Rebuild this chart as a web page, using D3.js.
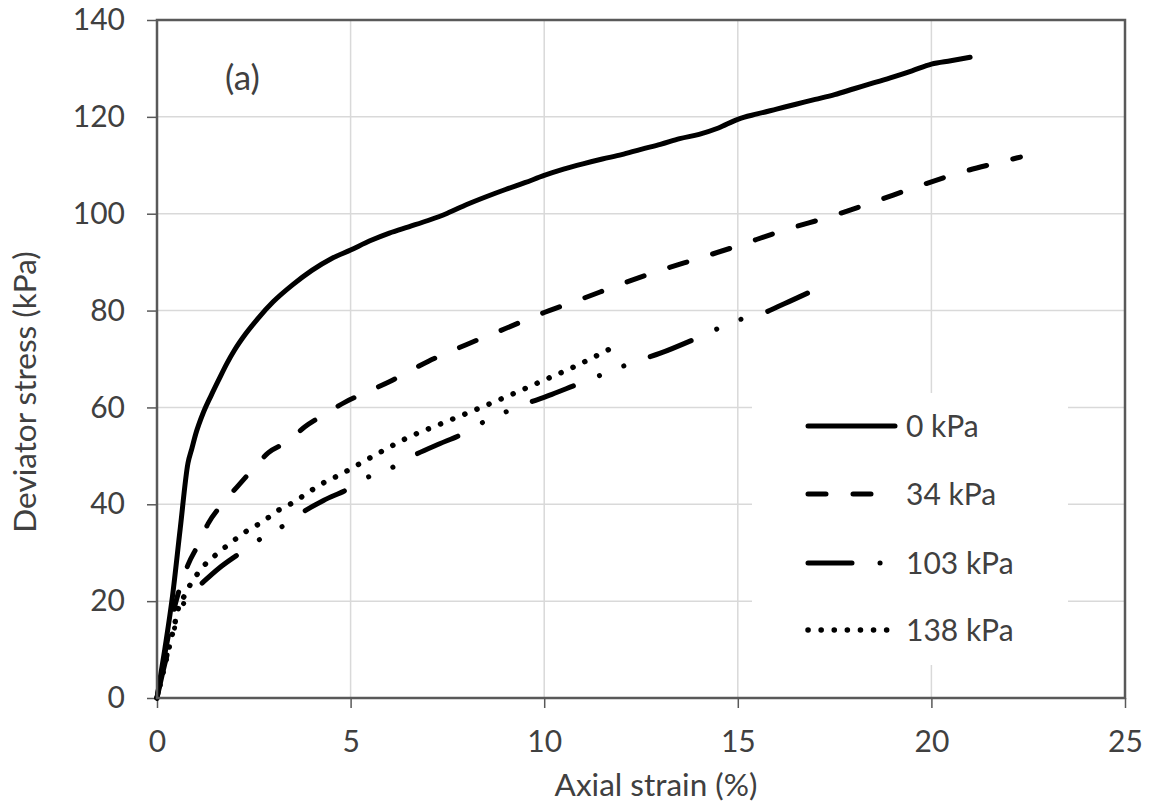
<!DOCTYPE html>
<html>
<head>
<meta charset="utf-8">
<script src="https://cdn.jsdelivr.net/npm/d3@7"></script>
<style>
  html, body { margin: 0; padding: 0; background: #fff; }
  svg { display: block; }
  text { font-family: Lato, "Open Sans", sans-serif; fill: #404040; }
</style>
</head>
<body>
<svg id="chart" width="1152" height="808"></svg>
<script>
// ---- data ----
const xTicks = [0, 5, 10, 15, 20, 25];
const yTicks = [0, 20, 40, 60, 80, 100, 120, 140];
const seriesNames = ["0 kPa", "34 kPa", "103 kPa", "138 kPa"];

const strain0 = [0,0.2,0.4,0.6,0.8,0.9,1.0,1.2,1.4,1.6,1.8,2.0,2.3,2.6,3.0,3.5,4.0,4.5,5.0,5.5,6.0,6.5,7.0,7.5,8.0,8.5,9.0,9.5,10,10.5,11,11.5,12,12.5,13,13.5,14,14.5,15,15.5,16,16.5,17,17.5,18,18.5,19,19.5,20,20.5,21];
const stress0 = [0,10,21,35,48.5,51.5,54.5,59,62.5,65.8,69,71.8,75.3,78.3,81.8,85.3,88.3,90.7,92.5,94.4,96,97.3,98.6,100.1,101.9,103.5,105,106.4,107.9,109.2,110.3,111.3,112.2,113.3,114.3,115.5,116.4,117.7,119.5,120.6,121.6,122.6,123.6,124.6,125.8,127,128.2,129.5,130.9,131.6,132.3];

const strain34 = [0,0.2,0.4,0.6,0.8,1.06,1.32,1.68,2.07,2.45,2.87,3.36,3.82,4.29,4.86,5.37,6,7,8,9,10,11,12,13,14,14.9,16.2,17.5,18.5,19.6,20.7,21.7,22.3];
const stress34 = [0,9,17,23,27.5,31.6,36,40,43.6,47,50.6,52.9,56,58.4,61.1,63,65.3,69.5,73,76.3,79.6,82.5,85.5,88.3,90.8,93.1,96.6,99.7,102.4,105.5,108.4,110.5,111.7];

const strain103 = [0,0.2,0.4,0.6,0.8,1.16,1.6,2.14,2.66,3.25,3.77,4.3,4.9,5.45,6.1,6.66,7.3,7.83,8.39,8.99,9.58,10.2,10.74,11.5,12.3,13,14,15,15.6,16.2,16.8];
const stress103 = [0,7,13,18,21,23.7,26.8,29.9,32.8,35.5,38.4,40.8,43,45.6,47.7,50.2,52.5,54.3,56.8,59,60.9,62.7,64.4,66.8,69.3,71.2,74.5,78,79.3,81.4,83.6];

const strain138 = [0,0.15,0.3,0.45,0.55,0.7,0.85,1.06,1.28,1.54,1.8,2.06,2.32,2.62,2.9,3.18,3.48,3.77,4.03,4.34,4.65,5.55,6.46,7.39,8.34,9.25,9.9,10.8,11.75];
const stress138 = [0,5,10,15,18.5,21,23.3,25.8,27.9,29.7,31.4,33,34.5,35.9,37.4,39,40.2,41.7,43.1,44.6,45.8,49.8,53.7,56.8,59.9,63,65.3,68.5,72.3];

// ---- layout ----
const svg = d3.select("#chart");
const L = 157, T = 20, R = 1125, B = 698;
const x = d3.scaleLinear().domain([0, 25]).range([L, R]);
const y = d3.scaleLinear().domain([0, 140]).range([B, T]);

const gridColor = "#d9d9d9";
const axisColor = "#595959";

// gridlines
svg.append("g").selectAll("line.h").data(yTicks.slice(1)).join("line")
  .attr("x1", L).attr("x2", R).attr("y1", d => y(d)).attr("y2", d => y(d))
  .attr("stroke", gridColor).attr("stroke-width", 1.5);
svg.append("g").selectAll("line.v").data(xTicks.slice(1)).join("line")
  .attr("y1", T).attr("y2", B).attr("x1", d => x(d)).attr("x2", d => x(d))
  .attr("stroke", gridColor).attr("stroke-width", 1.5);

// axes
const gx = svg.append("g").attr("transform", `translate(0,${B})`)
  .call(d3.axisBottom(x).tickValues(xTicks).tickSize(10).tickPadding(23).tickFormat(d3.format("d")));
const gy = svg.append("g").attr("transform", `translate(${L},0)`)
  .call(d3.axisLeft(y).tickValues(yTicks).tickSize(10).tickPadding(22).tickFormat(d3.format("d")));
[gx, gy].forEach(g => {
  g.select(".domain").remove();
  g.selectAll(".tick line").attr("stroke", axisColor).attr("stroke-width", 1.5);
  g.selectAll(".tick text").style("font-family", "Lato, 'Open Sans', sans-serif")
    .style("font-size", "30px").attr("fill", "#404040");
});

// series
const styles = [
  { dash: null, cap: "round" },
  { dash: "18,27", cap: "round" },
  { dash: "44,28,0.1,26,0.1,28", cap: "round" },
  { dash: "0.1,13", cap: "round" }
];
const series = [
  { xs: strain0, ys: stress0 },
  { xs: strain34, ys: stress34 },
  { xs: strain103, ys: stress103 },
  { xs: strain138, ys: stress138 }
];
const line = d3.line().x(d => x(d[0])).y(d => y(d[1])).curve(d3.curveMonotoneX);
series.forEach((s, i) => {
  const pts = s.xs.map((v, k) => [v, s.ys[k]]);
  svg.append("path").datum(pts).attr("d", line)
    .attr("fill", "none").attr("stroke", "#000")
    .attr("stroke-width", i === 3 ? 5.5 : 5)
    .attr("stroke-linecap", styles[i].cap).attr("stroke-linejoin", "round")
    .attr("stroke-dasharray", styles[i].dash);
});

// frame
svg.append("rect").attr("x", L).attr("y", T).attr("width", R - L).attr("height", B - T)
  .attr("fill", "none").attr("stroke", axisColor).attr("stroke-width", 2.5);

// legend
const lg = svg.append("g");
lg.append("rect").attr("x", 752).attr("y", 393).attr("width", 316).attr("height", 272).attr("fill", "#fff");
const rowY = [426, 494, 563, 630];
seriesNames.forEach((name, i) => {
  lg.append("line").attr("x1", 808).attr("x2", 895).attr("y1", rowY[i]).attr("y2", rowY[i])
    .attr("stroke", "#000").attr("stroke-width", i === 3 ? 5.5 : 5)
    .attr("stroke-linecap", "round").attr("stroke-dasharray", styles[i].dash);
  lg.append("text").attr("x", 906).attr("y", rowY[i]).attr("dy", "0.36em")
    .style("font-size", "30px").text(name);
});

// panel label
svg.append("text").attr("x", 225).attr("y", 90).style("font-size", "35px").attr("fill", "#111").text("(a)");

// axis titles
svg.append("text").attr("x", 656).attr("y", 796).attr("text-anchor", "middle")
  .style("font-size", "31.5px").text("Axial strain (%)");
svg.append("text").attr("transform", "translate(36,392) rotate(-90)").attr("text-anchor", "middle")
  .style("font-size", "31.5px").text("Deviator stress (kPa)");
</script>
</body>
</html>
